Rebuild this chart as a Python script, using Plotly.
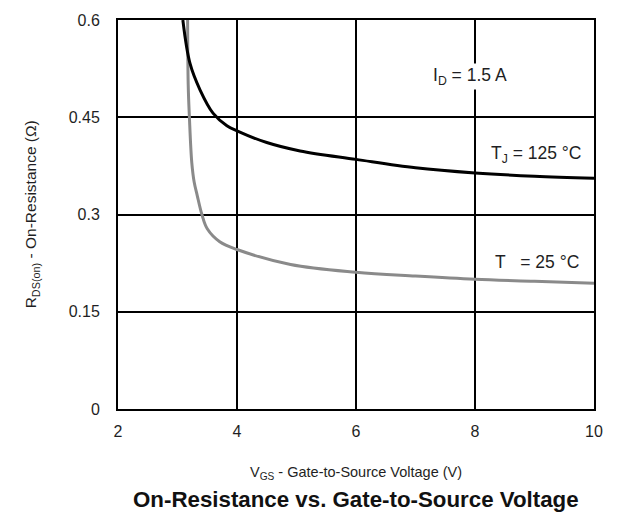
import plotly.graph_objects as go

# Gate-to-source voltage (V) and on-resistance (ohm) readings
vgs_125 = [3.09, 3.21, 3.38, 3.60, 3.83, 4.0, 4.5, 5.06, 6.0, 7.0, 8.0, 9.0, 10.0]
rds_125 = [0.600, 0.533, 0.492, 0.456, 0.437, 0.429, 0.411, 0.398, 0.385, 0.372, 0.364, 0.359, 0.356]

vgs_25 = [3.17, 3.18, 3.20, 3.24, 3.28, 3.33, 3.41, 3.50, 3.71, 4.0, 4.9, 6.0, 7.0, 8.0, 9.0, 10.0]
rds_25 = [0.600, 0.500, 0.450, 0.380, 0.350, 0.330, 0.300, 0.278, 0.258, 0.246, 0.223, 0.211, 0.205, 0.200, 0.197, 0.194]

x_ticks = [2, 4, 6, 8, 10]
y_ticks = [0, 0.15, 0.3, 0.45, 0.6]
y_tick_labels = ["0", "0.15", "0.3", "0.45", "0.6"]

FONT = "Liberation Sans, Arial, sans-serif"
TEXT = "#1f1f24"

fig = go.Figure()
fig.add_trace(go.Scatter(x=vgs_25, y=rds_25, mode="lines",
                         line=dict(color="#8a8a8a", width=3, shape="spline", smoothing=1.0),
                         showlegend=False, hoverinfo="skip"))
fig.add_trace(go.Scatter(x=vgs_125, y=rds_125, mode="lines",
                         line=dict(color="#000000", width=3, shape="spline", smoothing=1.0),
                         showlegend=False, hoverinfo="skip"))

fig.update_layout(
    width=617, height=522,
    margin=dict(l=118, r=23, t=16, b=113),
    paper_bgcolor="white", plot_bgcolor="white",
    font=dict(family=FONT, size=16, color=TEXT),
    xaxis=dict(range=[2, 10], tickvals=x_ticks, showgrid=True, gridcolor="#000000",
               gridwidth=1.5, showline=True, linecolor="#000000", linewidth=2, mirror=True,
               ticks="", zeroline=False, ticklabelstandoff=7, fixedrange=True),
    yaxis=dict(range=[0, 0.6], tickvals=y_ticks, ticktext=y_tick_labels, showgrid=True,
               gridcolor="#000000", gridwidth=1.5, showline=True, linecolor="#000000",
               linewidth=2, mirror=True, ticks="", zeroline=False, ticklabelstandoff=13,
               fixedrange=True),
)

# in-plot labels (x in volts, y in ohms)
labels = [
    (7.92, 0.513, "I<sub>D</sub> = 1.5 A"),
    (9.03, 0.392, "T<sub>J</sub> = 125 °C"),
    (9.04, 0.227, "T&nbsp;&nbsp;&nbsp;= 25 °C"),
]
for vx, val, txt in labels:
    fig.add_annotation(x=vx, y=val, xref="x", yref="y",
                       text=txt, showarrow=False, font=dict(size=17.5, color=TEXT),
                       bgcolor="white")

# axis titles and caption
fig.add_annotation(x=0.5, y=-0.165, xref="paper", yref="paper", showarrow=False,
                   text="V<sub>GS</sub> - Gate-to-Source Voltage (V)",
                   font=dict(size=14.5, color=TEXT), yanchor="middle")
fig.add_annotation(x=0.5, y=-0.233, xref="paper", yref="paper", showarrow=False,
                   text="<b>On-Resistance vs. Gate-to-Source Voltage</b>",
                   font=dict(size=22.3, color="#111111"), yanchor="middle")
fig.add_annotation(x=-0.181, y=0.50, xref="paper", yref="paper", showarrow=False,
                   text="R<sub>DS(on)</sub> - On-Resistance (Ω)", textangle=-90,
                   font=dict(size=15.5, color=TEXT), xanchor="center", yanchor="middle")

fig.write_html("out.html")
